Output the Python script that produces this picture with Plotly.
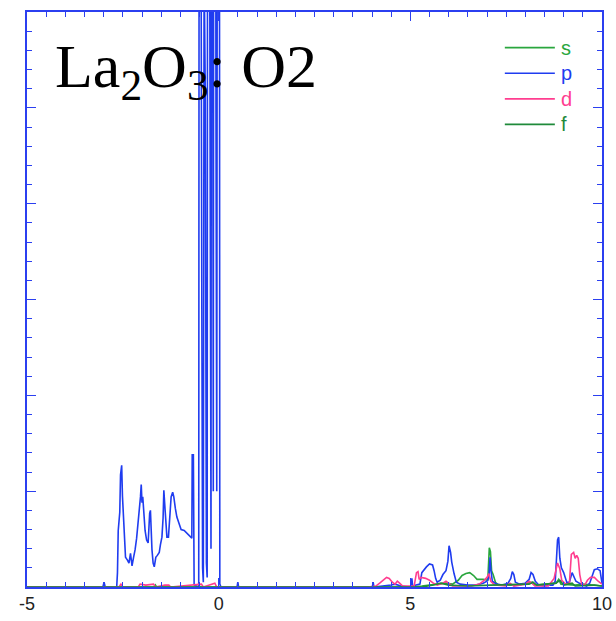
import plotly.graph_objects as go

# ---------------- data (energy in eV, PDOS in arbitrary units) ----------------
p_x = [-5.0, -3.02, -2.99, -2.96, -2.66, -2.64, -2.62, -2.58, -2.56, -2.53, -2.51, -2.48, -2.46, -2.43,
       -2.38, -2.34, -2.30, -2.26, -2.22, -2.18, -2.14, -2.12, -2.08, -2.04, -2.02, -2.00, -1.98, -1.95,
       -1.92, -1.88, -1.84, -1.80, -1.78, -1.74, -1.71, -1.68, -1.64, -1.60, -1.55, -1.52, -1.48, -1.45,
       -1.43, -1.41, -1.38, -1.35, -1.31, -1.27, -1.24, -1.20, -1.17, -1.13, -1.09, -1.04, -0.98, -0.90,
       -0.82, -0.76, -0.70, -0.69, -0.66, -0.64, -0.52, -0.50, -0.48, -0.46, -0.44, -0.42, -0.40, -0.38,
       -0.35, -0.32, -0.30, -0.28, -0.25, -0.23, -0.20, -0.18, -0.16, -0.14, -0.12, -0.10, -0.07, -0.05,
       -0.02, 0.01, 0.03, 0.06, 0.48, 0.50, 0.52,
       4.01, 4.03, 4.05, 4.30, 4.50, 4.60, 4.75, 4.98, 5.02, 5.04, 5.06, 5.15, 5.25, 5.30, 5.35, 5.42,
       5.50, 5.58, 5.62, 5.66, 5.70, 5.78, 5.85, 5.93, 5.98, 6.01, 6.05, 6.08, 6.14, 6.20, 6.30, 6.50,
       6.70, 6.90, 7.00, 7.05, 7.08, 7.10, 7.14, 7.25, 7.40, 7.55, 7.62, 7.66, 7.70, 7.74, 7.85, 8.00,
       8.10, 8.15, 8.20, 8.26, 8.35, 8.50, 8.60, 8.72, 8.78, 8.81, 8.84, 8.87, 8.90, 8.94, 9.00, 9.08,
       9.15, 9.22, 9.26, 9.32, 9.45, 9.60, 9.68, 9.74, 9.80, 9.88, 9.95, 10.0]
p_y = [0, 0, 0.05, 0, 0, 0.15, 0.59, 0.78, 1.17, 1.27, 0.95, 0.73, 0.52, 0.31,
       0.28, 0.25, 0.35, 0.22, 0.31, 0.39, 0.51, 0.59, 0.80, 0.94, 1.07, 0.88, 0.94, 0.73,
       0.59, 0.49, 0.46, 0.77, 0.80, 0.39, 0.25, 0.21, 0.31, 0.33, 0.36, 0.44, 0.52, 0.72,
       1.01, 0.88, 0.63, 0.52, 0.52, 0.80, 0.94, 0.99, 0.94, 0.82, 0.73, 0.67, 0.60, 0.59,
       0.56, 0.54, 0.51, 1.38, 1.38, 0.02, 0.0, 15, 15, 3.6, 3.0, 0.2, 0.05, 6.5,
       5.2, 0.25, 0.1, 15, 15, 4.8, 0.4, 15, 8.0, 1.0, 15, 15, 5.0, 1.0,
       15, 15, 0.03, 0, 0, 0.05, 0,
       0, 0.05, 0, 0.01, 0.02, 0.03, 0.01, 0, 0, 0.09, 0.01, 0.02, 0.03, 0.15, 0.18, 0.21,
       0.24, 0.23, 0.17, 0.09, 0.05, 0.07, 0.13, 0.17, 0.27, 0.43, 0.36, 0.26, 0.14, 0.05, 0.03, 0.02,
       0.02, 0.04, 0.06, 0.10, 0.31, 0.18, 0.06, 0.03, 0.02, 0.04, 0.09, 0.16, 0.13, 0.05, 0.03, 0.04,
       0.08, 0.15, 0.13, 0.06, 0.02, 0.01, 0.02, 0.02, 0.06, 0.30, 0.49, 0.52, 0.30, 0.20, 0.15, 0.05,
       0.05, 0.15, 0.11, 0.06, 0.03, 0.01, 0.04, 0.12, 0.18, 0.19, 0.17, 0.04]

d_x = [-5.0, -2.60, -2.55, -2.50, -2.10, -2.05, -1.90, -1.70, -1.65, -1.40, -1.30, -1.25, -0.45, -0.40,
       -0.10, -0.05, 3.90, 4.10, 4.20, 4.30, 4.38, 4.45, 4.53, 4.60, 4.66, 4.72, 4.80, 5.10, 5.16, 5.20,
       5.23, 5.28, 5.40, 5.50, 5.60, 5.70, 5.85, 5.93, 6.00, 6.10, 6.60, 6.80, 6.90, 7.00, 7.05, 7.10,
       7.20, 7.50, 7.60, 7.70, 8.00, 8.10, 8.17, 8.25, 8.60, 8.75, 8.84, 8.90, 8.95, 9.05, 9.15, 9.20,
       9.26, 9.30, 9.34, 9.38, 9.42, 9.47, 9.55, 9.62, 9.70, 9.80, 9.90, 10.0]
d_y = [0, 0, 0.03, 0, 0, 0.03, 0.02, 0.03, 0, 0.02, 0.02, 0, 0.03, 0,
       0.04, 0, 0, 0.01, 0.04, 0.07, 0.10, 0.09, 0.05, 0.03, 0.06, 0.04, 0.01, 0.01, 0.15, 0.16,
       0.08, 0.10, 0.09, 0.07, 0.04, 0.02, 0.04, 0.06, 0.04, 0.01, 0.01, 0.03, 0.06, 0.10, 0.14, 0.06,
       0.02, 0.01, 0.04, 0.01, 0.03, 0.06, 0.04, 0.01, 0.01, 0.09, 0.25, 0.19, 0.07, 0.03, 0.04, 0.34,
       0.36, 0.30, 0.33, 0.30, 0.13, 0.03, 0.02, 0.07, 0.10, 0.10, 0.06, 0.03]

s_x = [-5.0, -1.68, -1.65, -1.62, -0.52, -0.50, -0.48, 5.00, 5.30, 5.70, 5.90, 6.10, 6.25, 6.35, 6.45,
       6.55, 6.65, 6.74, 6.90, 7.02, 7.06, 7.09, 7.12, 7.16, 7.22, 7.30, 7.80, 8.18, 8.25, 8.80, 8.87,
       8.93, 9.30, 9.50, 9.80, 10.0]
s_y = [0, 0, 0.02, 0, 0, 0.01, 0, 0, 0.01, 0.03, 0.04, 0.03, 0.07, 0.12, 0.14,
       0.15, 0.12, 0.08, 0.08, 0.07, 0.41, 0.37, 0.17, 0.13, 0.05, 0.02, 0.02, 0.05, 0.02, 0.04, 0.08,
       0.03, 0.02, 0.03, 0.02, 0.01]

f_x = [-5.0, 5.30, 5.60, 5.80, 6.00, 6.50, 7.10, 8.10, 8.20, 8.30, 8.80, 8.90, 9.00, 9.22, 9.30, 9.80, 10.0]
f_y = [0, 0, 0.02, 0.04, 0.02, 0.01, 0.02, 0.03, 0.05, 0.02, 0.04, 0.07, 0.02, 0.04, 0.01, 0.02, 0.01]

series_names = ["s", "p", "d", "f"]
series_colors = ["#2aa63e", "#1f3cf0", "#ff3d8f", "#1f8a3a"]
series_x = [s_x, p_x, d_x, f_x]
series_y = [s_y, p_y, d_y, f_y]

x_tickvals = [-5, 0, 5, 10]
x_ticktext = ["-5", "0", "5", "10"]
title_text = "La<sub>2</sub>O<sub>3</sub>: O2"

AXIS = "#2b3ff0"

fig = go.Figure()
for name, col, xs, ys in zip(series_names, series_colors, series_x, series_y):
    fig.add_trace(go.Scatter(x=xs, y=ys, mode="lines", name=name,
                             line=dict(color=col, width=1.6), showlegend=False))

# manual legend (line + coloured label)
for i, (name, col) in enumerate(zip(series_names, series_colors)):
    yy = 0.938 - i * 0.0445
    fig.add_shape(type="line", xref="paper", yref="paper", x0=0.831, x1=0.918, y0=yy, y1=yy,
                  line=dict(color=col, width=1.6))
    fig.add_annotation(xref="paper", yref="paper", x=0.926, y=yy, text=name, showarrow=False,
                       xanchor="left", yanchor="middle",
                       font=dict(family="Liberation Sans, Arial", size=20, color=col))

fig.add_annotation(xref="paper", yref="paper", x=0.045, y=0.968, text=title_text, showarrow=False,
                   xanchor="left", yanchor="top",
                   font=dict(family="Liberation Serif, Times New Roman", size=62, color="black"))

fig.update_layout(
    width=616, height=621,
    margin=dict(l=27, r=14, t=12, b=34, autoexpand=False),
    paper_bgcolor="white", plot_bgcolor="white",
    showlegend=False,
    xaxis=dict(range=[-5, 10], tickvals=x_tickvals, ticktext=x_ticktext, automargin=False,
               showline=True, linecolor=AXIS, linewidth=1.5, mirror="ticks",
               ticks="inside", ticklen=9, tickcolor=AXIS, tickwidth=1.2,
               minor=dict(dtick=0.5, ticks="inside", ticklen=5, tickcolor=AXIS, tickwidth=1.2),
               showgrid=False, zeroline=False,
               tickfont=dict(family="Liberation Sans, Arial", size=18, color="#222222")),
    yaxis=dict(range=[0, 6], dtick=1, showticklabels=False, automargin=False,
               showline=True, linecolor=AXIS, linewidth=1.5, mirror="ticks",
               ticks="inside", ticklen=9, tickcolor=AXIS, tickwidth=1.2,
               minor=dict(dtick=0.2, ticks="inside", ticklen=5, tickcolor=AXIS, tickwidth=1.2),
               showgrid=False, zeroline=False),
)

fig.write_html("out.html")
